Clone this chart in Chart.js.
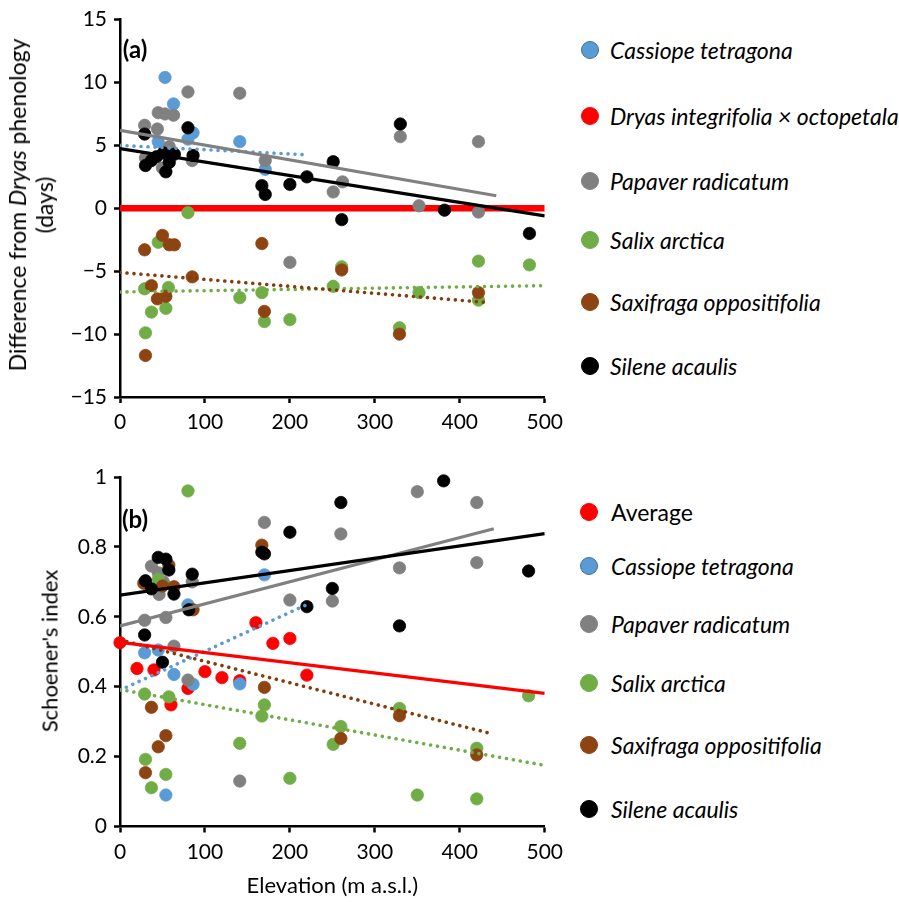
<!DOCTYPE html>
<html><head><meta charset="utf-8">
<script src="https://cdn.jsdelivr.net/npm/chart.js@4.4.1/dist/chart.umd.min.js"></script>
<style>
body{margin:0;background:#fff;width:899px;height:902px;position:relative;overflow:hidden;font-family:Lato,sans-serif;color:#000;}
canvas{position:absolute;left:0;}
#ca{top:0;} #cb{top:450px;}
.item{position:absolute;white-space:nowrap;font-size:23px;line-height:26px;transform:translateY(-50%);}
.it{font-style:italic;}
.dot{position:absolute;width:18px;height:18px;border-radius:50%;box-sizing:border-box;transform:translate(-50%,-50%);}
.ytitle{position:absolute;white-space:nowrap;font-size:23px;text-align:center;transform:translate(-50%,-50%) rotate(-90deg);}
.plab{position:absolute;font-weight:bold;font-size:24px;transform:translate(-50%,-50%);}
</style></head><body>
<canvas id="ca" width="570" height="450"></canvas>
<canvas id="cb" width="570" height="452"></canvas>
<div class="ytitle" style="left:31px;top:205px;line-height:27px;">Difference from <i>Dryas</i> phenology<br>(days)</div>
<div class="ytitle" style="left:49px;top:651px;font-size:22px;">Schoener's index</div>
<div class="plab" style="left:135px;top:48px;">(a)</div>
<div class="plab" style="left:135px;top:518px;">(b)</div>
<div id="legA"></div><div id="legB"></div>
<script>
// ---------- Panel (a): difference from Dryas phenology (days) ----------
const elevA_cassiope = [53, 63, 86, 45, 80, 141, 171];
const diffA_cassiope = [10.4, 8.3, 6.0, 5.3, 5.5, 5.3, 3.1];
const elevA_papaver = [80, 141, 45, 53, 63, 29, 44, 58, 30, 50, 85, 171, 330, 422, 262, 251, 352, 422, 200];
const diffA_papaver = [9.25, 9.15, 7.6, 7.5, 7.4, 6.6, 6.3, 4.9, 4.0, 3.2, 3.8, 3.8, 5.7, 5.3, 2.1, 1.3, 0.2, -0.3, -4.3];
const elevA_salix = [80, 45, 29, 57, 141, 167, 37, 54, 170, 200, 30, 261, 251, 352, 422, 482, 422, 329];
const diffA_salix = [-0.35, -2.7, -6.4, -6.3, -7.1, -6.7, -8.25, -7.95, -9.0, -8.85, -9.9, -4.65, -6.2, -6.7, -4.2, -4.5, -7.3, -9.5];
const elevA_saxifraga = [50, 29, 58, 64, 167, 85, 37, 44, 54, 170, 30, 261, 422, 329];
const diffA_saxifraga = [-2.15, -3.3, -2.9, -2.9, -2.8, -5.45, -6.15, -7.2, -7.0, -8.2, -11.7, -4.9, -6.7, -10.0];
const elevA_silene = [80, 29, 51, 64, 43, 37, 30, 58, 54, 86, 167, 171, 200, 220, 330, 251, 261, 382, 482];
const diffA_silene = [6.4, 5.9, 4.4, 4.3, 4.1, 3.8, 3.4, 3.65, 2.9, 4.2, 1.8, 1.1, 1.9, 2.5, 6.7, 3.7, -0.9, -0.15, -2.0];
// trend lines (end points)
const trendA_dryas_x = [0, 500], trendA_dryas_y = [0, 0];
const trendA_cassiope_x = [0, 220], trendA_cassiope_y = [5.0, 4.25];
const trendA_papaver_x = [0, 443], trendA_papaver_y = [6.2, 1.0];
const trendA_silene_x = [0, 500], trendA_silene_y = [4.75, -0.6];
const trendA_salix_x = [0, 500], trendA_salix_y = [-6.65, -6.15];
const trendA_saxifraga_x = [0, 435], trendA_saxifraga_y = [-5.1, -7.5];
const ticksA_y = [-15, -10, -5, 0, 5, 10, 15];
const ticksX = [0, 100, 200, 300, 400, 500];

// ---------- Panel (b): Schoener's index ----------
const elevB_average = [0, 20, 40, 60, 80, 100, 120, 141, 160, 180, 200, 220];
const schB_average = [0.526, 0.452, 0.448, 0.348, 0.395, 0.443, 0.426, 0.417, 0.583, 0.524, 0.538, 0.433];
const elevB_cassiope = [170, 45, 29, 63.5, 141, 86, 80, 54];
const schB_cassiope = [0.72, 0.505, 0.497, 0.435, 0.408, 0.407, 0.634, 0.09];
const elevB_papaver = [170, 37, 45, 51, 85, 46, 200, 29, 54, 63.5, 80, 141, 350, 420, 260, 329, 420, 250];
const schB_papaver = [0.87, 0.745, 0.726, 0.70, 0.70, 0.664, 0.648, 0.59, 0.598, 0.516, 0.419, 0.13, 0.958, 0.927, 0.837, 0.74, 0.755, 0.645];
const elevB_salix = [80, 45, 29, 57.5, 170, 167, 141, 30, 54, 200, 37, 260, 251, 329, 420, 350, 420, 481];
const schB_salix = [0.96, 0.707, 0.379, 0.371, 0.348, 0.316, 0.238, 0.192, 0.149, 0.138, 0.111, 0.286, 0.235, 0.338, 0.224, 0.09, 0.079, 0.374];
const elevB_saxifraga = [167, 57.5, 28, 50, 63.5, 86, 170, 37, 54, 45, 30, 260, 329, 420];
const schB_saxifraga = [0.805, 0.748, 0.696, 0.688, 0.686, 0.62, 0.398, 0.341, 0.26, 0.228, 0.154, 0.252, 0.317, 0.205];
const elevB_silene = [200, 167, 170, 45, 54, 57.5, 85, 30, 37, 63.5, 81, 220, 29, 50, 381, 260, 481, 250, 329];
const schB_silene = [0.842, 0.785, 0.78, 0.77, 0.765, 0.734, 0.722, 0.703, 0.68, 0.665, 0.62, 0.629, 0.548, 0.47, 0.989, 0.927, 0.731, 0.681, 0.574];
const trendB_average_x = [0, 500], trendB_average_y = [0.527, 0.381];
const trendB_cassiope_x = [0, 220], trendB_cassiope_y = [0.39, 0.635];
const trendB_papaver_x = [0, 440], trendB_papaver_y = [0.574, 0.852];
const trendB_salix_x = [0, 500], trendB_salix_y = [0.392, 0.175];
const trendB_saxifraga_x = [0, 435], trendB_saxifraga_y = [0.534, 0.267];
const trendB_silene_x = [0, 500], trendB_silene_y = [0.662, 0.838];
const ticksB_y = [0, 0.2, 0.4, 0.6, 0.8, 1];

const legendA = ['Cassiope tetragona', 'Dryas integrifolia \u00d7 octopetala', 'Papaver radicatum', 'Salix arctica', 'Saxifraga oppositifolia', 'Silene acaulis'];
const legendB = ['Average', 'Cassiope tetragona', 'Papaver radicatum', 'Salix arctica', 'Saxifraga oppositifolia', 'Silene acaulis'];

// ---------- styles ----------
const C = {
  blue: '#5B9BD5', blueEdge: '#41719C', red: '#FF0000', gray: '#808080',
  green: '#70AD47', brown: '#8E4412', brownLine: '#843C0C', black: '#000000'
};
const FONT = 'Lato';

function pts(xs, ys) { return xs.map((x, i) => ({ x: x, y: ys[i] })); }
function scat(label, xs, ys, col, edge, order) {
  return { label, data: pts(xs, ys), backgroundColor: col, borderColor: edge || col, borderWidth: 0.75,
    pointRadius: 6.2, pointHoverRadius: 6.2, showLine: false, order, clip: false };
}
function solid(xs, ys, col, w, order) {
  return { data: pts(xs, ys), borderColor: col, borderWidth: w, showLine: true, pointRadius: 0,
    pointHoverRadius: 0, fill: false, order, borderCapStyle: 'butt' };
}
function dotted(xs, ys, col, order) {
  return { data: pts(xs, ys), borderColor: col, borderWidth: 3.6, showLine: true, pointRadius: 0,
    pointHoverRadius: 0, fill: false, order, borderDash: [0.01, 7], borderCapStyle: 'round' };
}
function fmt(v) {
  const s = String(Math.round(v * 10) / 10);
  return v < 0 ? '\u2212' + s.slice(1) : s;
}
function xScale(h, title) {
  const sc = {
    type: 'linear', min: 0, max: 500, afterBuildTicks: s => { s.ticks = ticksX.map(v => ({ value: v })); },
    ticks: { color: '#000', font: { family: FONT, size: 21 }, padding: 7, maxRotation: 0, callback: fmt },
    grid: { display: true, drawOnChartArea: false, drawTicks: true, tickLength: 6, tickColor: '#000', tickWidth: 2.5 },
    border: { display: true, color: '#000', width: 2.5 },
    afterFit: s => { s.height = h; }
  };
  if (title) sc.title = { display: true, text: title, color: '#000', font: { family: FONT, size: 22 }, padding: { top: 0, bottom: 3 } };
  return sc;
}
function yScale(min, max, tickArr) {
  return {
    type: 'linear', min, max, afterBuildTicks: s => { s.ticks = tickArr.map(v => ({ value: v })); },
    ticks: { color: '#000', font: { family: FONT, size: 21 }, padding: 7, callback: fmt },
    grid: { display: true, drawOnChartArea: false, drawTicks: true, tickLength: 6, tickColor: '#000', tickWidth: 2.5 },
    border: { display: true, color: '#000', width: 2.5 },
    afterFit: s => { s.width = 120; }
  };
}
const common = {
  responsive: false, animation: false, events: [],
  plugins: { legend: { display: false }, tooltip: { enabled: false } }
};

new Chart(document.getElementById('ca'), {
  type: 'scatter',
  data: { datasets: [
    solid(trendA_dryas_x, trendA_dryas_y, C.red, 6.5, 100),
    scat(legendA[0], elevA_cassiope, diffA_cassiope, C.blue, C.blue, 50),
    scat(legendA[2], elevA_papaver, diffA_papaver, C.gray, C.gray, 40),
    scat(legendA[3], elevA_salix, diffA_salix, C.green, C.green, 30),
    scat(legendA[4], elevA_saxifraga, diffA_saxifraga, C.brown, C.brown, 20),
    scat(legendA[5], elevA_silene, diffA_silene, C.black, C.black, 10),
    dotted(trendA_cassiope_x, trendA_cassiope_y, C.blue, 5),
    dotted(trendA_salix_x, trendA_salix_y, C.green, 4),
    dotted(trendA_saxifraga_x, trendA_saxifraga_y, C.brownLine, 3),
    solid(trendA_papaver_x, trendA_papaver_y, C.gray, 3.2, 2),
    solid(trendA_silene_x, trendA_silene_y, C.black, 3.2, 1)
  ] },
  options: Object.assign({}, common, {
    layout: { padding: { top: 17, right: 23.5, left: 0, bottom: 0 } },
    scales: { x: xScale(53, null), y: yScale(-15, 15, ticksA_y) }
  })
});

new Chart(document.getElementById('cb'), {
  type: 'scatter',
  data: { datasets: [
    scat(legendB[0], elevB_average, schB_average, C.red, C.red, 60),
    scat(legendB[1], elevB_cassiope, schB_cassiope, C.blue, C.blue, 50),
    scat(legendB[2], elevB_papaver, schB_papaver, C.gray, C.gray, 40),
    scat(legendB[3], elevB_salix, schB_salix, C.green, C.green, 30),
    scat(legendB[4], elevB_saxifraga, schB_saxifraga, C.brown, C.brown, 20),
    scat(legendB[5], elevB_silene, schB_silene, C.black, C.black, 10),
    dotted(trendB_cassiope_x, trendB_cassiope_y, C.blue, 6),
    dotted(trendB_salix_x, trendB_salix_y, C.green, 5),
    dotted(trendB_saxifraga_x, trendB_saxifraga_y, C.brownLine, 4),
    solid(trendB_average_x, trendB_average_y, C.red, 3.2, 3),
    solid(trendB_papaver_x, trendB_papaver_y, C.gray, 3.2, 2),
    solid(trendB_silene_x, trendB_silene_y, C.black, 3.2, 1)
  ] },
  options: Object.assign({}, common, {
    layout: { padding: { top: 27, right: 23.5, left: 0, bottom: 0 } },
    scales: { x: xScale(75.5, 'Elevation (m a.s.l.)'), y: yScale(0, 1, ticksB_y) }
  })
});

// ---------- legends (HTML text) ----------
function buildLegend(id, names, cols, edges, ys, dotX, textX, italics) {
  const host = document.getElementById(id);
  names.forEach((n, i) => {
    const d = document.createElement('div');
    d.className = 'dot';
    d.style.left = dotX + 'px'; d.style.top = ys[i] + 'px';
    d.style.background = cols[i]; d.style.border = '1.5px solid ' + edges[i];
    host.appendChild(d);
    const t = document.createElement('div');
    t.className = 'item' + (italics[i] ? ' it' : '');
    t.style.left = textX + 'px'; t.style.top = ys[i] + 'px';
    t.textContent = n;
    host.appendChild(t);
  });
}
buildLegend('legA', legendA,
  [C.blue, C.red, C.gray, C.green, C.brown, C.black],
  [C.blueEdge, C.red, C.gray, C.green, C.brown, C.black],
  [50, 116, 181, 240, 302, 366], 590, 610, [1, 1, 1, 1, 1, 1]);
buildLegend('legB', legendB,
  [C.red, C.blue, C.gray, C.green, C.brown, C.black],
  [C.red, C.blueEdge, C.gray, C.green, C.brown, C.black],
  [512, 566, 624, 683, 745, 809], 589, 611, [0, 1, 1, 1, 1, 1]);
</script>
</body></html>
